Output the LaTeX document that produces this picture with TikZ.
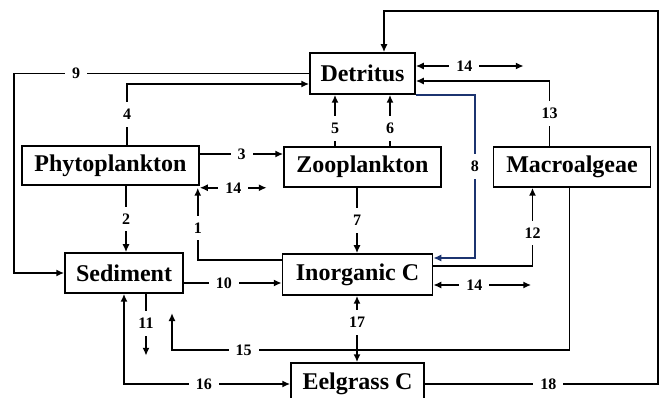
\documentclass[tikz,border=0pt]{standalone}
\usepackage{fontspec}
\setmainfont{Liberation Serif}
\usetikzlibrary{arrows.meta,positioning,calc}
\definecolor{flowblue}{RGB}{28,52,112}

\begin{document}
\begin{tikzpicture}[x=1pt,y=-1pt,>={Latex[length=8pt,width=7pt]},line width=1.7pt,
	box/.style={draw,line width=1.5pt,minimum height=40pt,inner sep=0pt,font=\fontsize{24}{28}\selectfont\bfseries},
	lbl/.style={fill=white,inner sep=7pt,font=\fontsize{16}{18}\selectfont\bfseries}]
	\useasboundingbox (0,0) rectangle (659,398);
	% compartments
	\node[box,minimum width=105pt,minimum height=41pt] (det) at (362.5,73.5) {Detritus};
	\node[box,minimum width=177pt,minimum height=39pt] (phy) at (110.5,165.5) {Phytoplankton};
	\node[box,minimum width=157pt] (zoo) at (362.5,167) {Zooplankton};
	\node[box,minimum width=157pt,right=51pt of zoo] (mac) {Macroalgeae};
	\node[box,minimum width=118pt] (sed) at (124,273) {Sediment};
	\node[box,minimum width=150pt,minimum height=41pt] (inc) at (357.5,274.5) {Inorganic C};
	\node[box,minimum width=133pt,minimum height=42pt] (eel) at (357.5,384) {Eelgrass C};
	\coordinate (c9) at (14,73.5);
	\coordinate (rt18) at (658,11);
	\coordinate (c15) at (172,350);
	% fluxes
	\draw[->] ([yshift=11.5pt]phy.east) coordinate (p3) -- (p3 -| zoo.west) node[lbl,midway] {3};
	\draw[<->] ([yshift=-2pt]phy.south east) -- ++(67,0) node[lbl,midway] {14};
	\draw[->] ([xshift=16.5pt]phy.north) |- ([yshift=-10.5pt]det.west) node[lbl,pos=0.25] {4};
	\draw[->] (det.west) -- (c9) node[lbl,pos=0.79] {9} |- (sed.west);
	\draw[->] ([xshift=15.5pt]phy.south) coordinate (p2) -- (p2 |- sed.north) node[lbl,midway] {2};
	\draw[->] ([yshift=14.5pt]inc.west) -| ([xshift=-2pt,yshift=-2pt]phy.south east) node[lbl,pos=0.72] {1};
	\draw[->] ([xshift=-27.5pt]zoo.north) coordinate (z5) -- (z5 |- det.south) node[lbl,pos=0.35] {5};
	\draw[->] ([xshift=27.5pt]zoo.north) coordinate (z6) -- (z6 |- det.south) node[lbl,pos=0.35] {6};
	\draw[->] ([xshift=-5.5pt]zoo.south) coordinate (z7) -- (z7 |- inc.north) node[lbl,midway] {7};
	\draw[->,flowblue] (det.south east) -| ([xshift=41.5pt,yshift=16.5pt]inc.east) node[lbl,pos=0.72,text=black] {8} -- ([yshift=16.5pt]inc.east);
	\draw[->] ([yshift=8.5pt]inc.east) -| ([xshift=-39.5pt]mac.south) node[lbl,pos=0.71] {12};
	\draw[<->] ([yshift=-10.5pt]inc.east) -- ++(98,0) node[lbl,pos=0.42] {14};
	\draw[->] ([xshift=-22.5pt]mac.north) |- ([yshift=-7.5pt]det.east) node[lbl,pos=0.25] {13};
	\draw[<->] ([yshift=7.5pt]det.east) -- ++(108,0) node[lbl,pos=0.45] {14};
	\draw[->] (eel.east) -- (eel.east -| rt18) node[lbl,pos=0.53] {18} -- (rt18) -| ([xshift=21.5pt]det.north);
	\draw[->] ([xshift=-2.5pt]mac.south) |- (c15) node[lbl,pos=0.91] {15} -- ++(0,-37);
	\draw[->] ([xshift=22pt]sed.south) -- ++(0,62) node[lbl,pos=0.48] {11};
	\draw[->] ([yshift=-10pt]sed.east) coordinate (s10) -- (s10 -| inc.west) node[lbl,pos=0.41] {10};
	\draw[<->] (sed.south) |- (eel.west) node[lbl,pos=0.74] {16};
	\draw[<->] ([xshift=-0.5pt]inc.south) coordinate (i17) -- (i17 |- eel.north) node[lbl,pos=0.4] {17};
\end{tikzpicture}
\end{document}
